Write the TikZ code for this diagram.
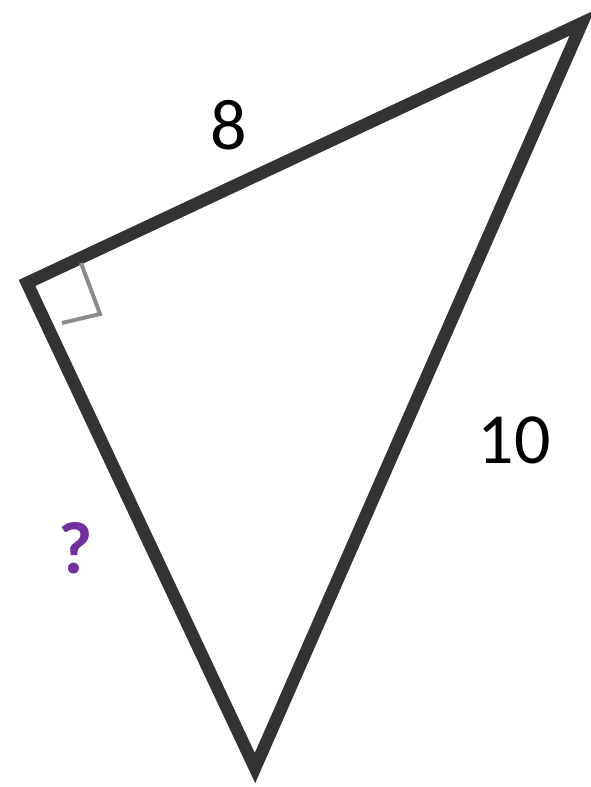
\documentclass[tikz,border=0pt]{standalone}
\usepackage{fontspec}
\setmainfont{Carlito}
\definecolor{edge}{HTML}{333333}
\definecolor{mark}{HTML}{8C8C8C}
\definecolor{qpurple}{HTML}{7030A0}
\begin{document}
\begin{tikzpicture}[x=1pt,y=1pt,
  side/.style={draw=edge,line width=12.5pt,line join=miter},
  rmark/.style={draw=mark,line width=4pt},
  lbl/.style={font=\fontsize{72}{80}\selectfont,inner sep=0pt}]
\useasboundingbox (0,0) rectangle (590,787);
\coordinate (A) at (27,504);
\coordinate (B) at (582,764);
\coordinate (C) at (255,19);
\draw[side] (A) -- (B) -- (C) -- cycle;
\coordinate (m1) at (81,524);
\coordinate (m2) at (100,473);
\coordinate (m3) at (62,464);
\draw[rmark] (m1) -- (m2) -- (m3);
\node[lbl] (eight) at (229,662) {8};
\node[lbl] (ten) at (514,347) {10};
\node[lbl,text=qpurple,font=\fontsize{74}{80}\selectfont\bfseries] (q) at (76,239) {?};
\end{tikzpicture}
\end{document}
